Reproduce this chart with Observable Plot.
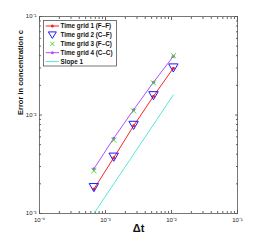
<!DOCTYPE html>
<html><head><meta charset="utf-8">
<script src="https://cdn.jsdelivr.net/npm/d3@7"></script>
<script src="https://cdn.jsdelivr.net/npm/@observablehq/plot@0.6"></script>
<style>body{margin:0;background:#fff} svg{font-family:"Liberation Sans",Arial,sans-serif}</style>
</head><body><div id="chart"></div>
<script>
const dt    = [6.67e-4, 1.333e-3, 2.667e-3, 5.333e-3, 1.067e-2];
const grid1 = [1.77e-3, 3.68e-3, 7.76e-3, 1.55e-2, 2.99e-2];
const grid2 = [1.89e-3, 3.85e-3, 8.1e-3, 1.62e-2, 3.1e-2];
const grid3 = [2.72e-3, 5.55e-3, 1.1e-2, 2.12e-2, 4.0e-2];
const grid4 = [2.84e-3, 5.81e-3, 1.13e-2, 2.15e-2, 3.95e-2];
const slopeX = [6.67e-4, 1.067e-2];
const slopeY = [1.0e-3, 1.6e-2];
const xMajor = [1e-4, 1e-3, 1e-2, 1e-1];
const yMajor = [1e-3, 1e-2, 1e-1];
const legendLabels = ["Time grid 1 (F\u2013F)", "Time grid 2 (C\u2013F)", "Time grid 3 (F\u2013C)", "Time grid 4 (C\u2013C)", "Slope 1"];
const colors = ["#ff2020", "#1a1aff", "#44dd22", "#b050ff", "#55e8d8"];

const rows = dt.map((d, i) => ({dt: d, g1: grid1[i], g2: grid2[i], g3: grid3[i], g4: grid4[i]}));
const slope = slopeX.map((d, i) => ({x: d, y: slopeY[i]}));
const minorOf = (majors) => majors.slice(0, -1).flatMap(m => [2,3,4,5,6,7,8,9].map(k => k * m));
const xMinor = minorOf(xMajor), yMinor = minorOf(yMajor);
const sup = {"-":"\u207B","0":"\u2070","1":"\u00B9","2":"\u00B2","3":"\u00B3","4":"\u2074"};
const fmt = v => "10" + String(Math.round(Math.log10(v))).split("").map(c => sup[c]).join("");
const tickCol = "#666";

const chart = Plot.plot({
  width: 259, height: 244,
  marginLeft: 39, marginRight: 22, marginTop: 16, marginBottom: 31,
  style: {fontFamily: "Liberation Sans, Arial, sans-serif", background: "#fff"},
  x: {type: "log", domain: [1e-4, 1e-1]},
  y: {type: "log", domain: [1e-3, 1e-1]},
  marks: [
    Plot.axisX(xMajor, {anchor: "bottom", tickSize: -3, stroke: tickCol, tickFormat: () => "", label: null}),
    Plot.axisX(xMinor, {anchor: "bottom", tickSize: -2, stroke: tickCol, tickFormat: () => "", label: null}),
    Plot.axisX(xMajor, {anchor: "top", tickSize: -3, stroke: tickCol, tickFormat: () => "", label: null}),
    Plot.axisX(xMinor, {anchor: "top", tickSize: -2, stroke: tickCol, tickFormat: () => "", label: null}),
    Plot.axisY(yMajor, {anchor: "left", tickSize: -3, stroke: tickCol, tickFormat: () => "", label: null}),
    Plot.axisY(yMinor, {anchor: "left", tickSize: -2, stroke: tickCol, tickFormat: () => "", label: null}),
    Plot.axisY(yMajor, {anchor: "right", tickSize: -3, stroke: tickCol, tickFormat: () => "", label: null}),
    Plot.axisY(yMinor, {anchor: "right", tickSize: -2, stroke: tickCol, tickFormat: () => "", label: null}),
    Plot.axisX(xMajor, {anchor: "bottom", tickSize: 0, tickPadding: 4, tickFormat: fmt, fontSize: 6, fill: "#222", label: null}),
    Plot.axisY(yMajor, {anchor: "left", tickSize: 0, tickPadding: 3, tickFormat: fmt, fontSize: 6, fill: "#222", label: null}),
    Plot.frame({stroke: "#555", strokeWidth: 0.8}),
    Plot.line(slope, {x: "x", y: "y", stroke: colors[4], strokeWidth: 1, clip: true}),
    Plot.line(rows, {x: "dt", y: "g4", stroke: colors[3], strokeWidth: 1}),
    Plot.dot(rows, {x: "dt", y: "g4", fill: colors[3], r: 1.6}),
    Plot.dot(rows, {x: "dt", y: "g3", symbol: "times", stroke: colors[2], r: 2.4, strokeWidth: 1}),
    Plot.line(rows, {x: "dt", y: "g1", stroke: colors[0], strokeWidth: 1}),
    Plot.dot(rows, {x: "dt", y: "g1", fill: colors[0], r: 1.5}),
    Plot.dot(rows, {x: "dt", y: "g2", symbol: "triangle", rotate: 180, stroke: colors[1], fill: "none", r: 3.5, strokeWidth: 1}),
    Plot.text(["Error in concentration c"], {text: d => d, frameAnchor: "left", rotate: -90, dx: -19, fontSize: 7.5, fontWeight: "bold", fill: "#111"}),
    Plot.text(["\u0394t"], {text: d => d, frameAnchor: "bottom", dy: 18, fontSize: 11, fontWeight: "bold", fill: "#111"})
  ]
});
document.getElementById("chart").append(chart);

// legend
const svg = d3.select(chart);
const lg = svg.append("g").attr("text-anchor", "start");
const lx = 43.5, ly = 20.5, lw = 73, lh = 45.5;
lg.append("rect").attr("x", lx).attr("y", ly).attr("width", lw).attr("height", lh).attr("fill", "#fff").attr("stroke", "#555").attr("stroke-width", 0.8);
legendLabels.forEach((t, i) => {
  const y = ly + 5.5 + i * 8.9, x0 = lx + 2.2, x1 = lx + 15.5, xc = (x0 + x1) / 2;
  if (i === 0 || i === 3 || i === 4) lg.append("line").attr("x1", x0).attr("x2", x1).attr("y1", y).attr("y2", y).attr("stroke", colors[i]).attr("stroke-width", 1);
  if (i === 0 || i === 3) lg.append("circle").attr("cx", xc).attr("cy", y).attr("r", 1.5).attr("fill", colors[i]);
  if (i === 1) lg.append("path").attr("d", `M${xc-4},${y-3}L${xc+4},${y-3}L${xc},${y+3.5}Z`).attr("fill", "none").attr("stroke", colors[1]).attr("stroke-width", 1);
  if (i === 2) lg.append("path").attr("d", `M${xc-2},${y-2}L${xc+2},${y+2}M${xc-2},${y+2}L${xc+2},${y-2}`).attr("stroke", colors[2]).attr("stroke-width", 1);
  lg.append("text").attr("x", lx + 17).attr("y", y).attr("dy", "0.35em").attr("font-size", 6.3).attr("font-weight", "bold").attr("fill", "#111").text(t);
});
</script></body></html>
